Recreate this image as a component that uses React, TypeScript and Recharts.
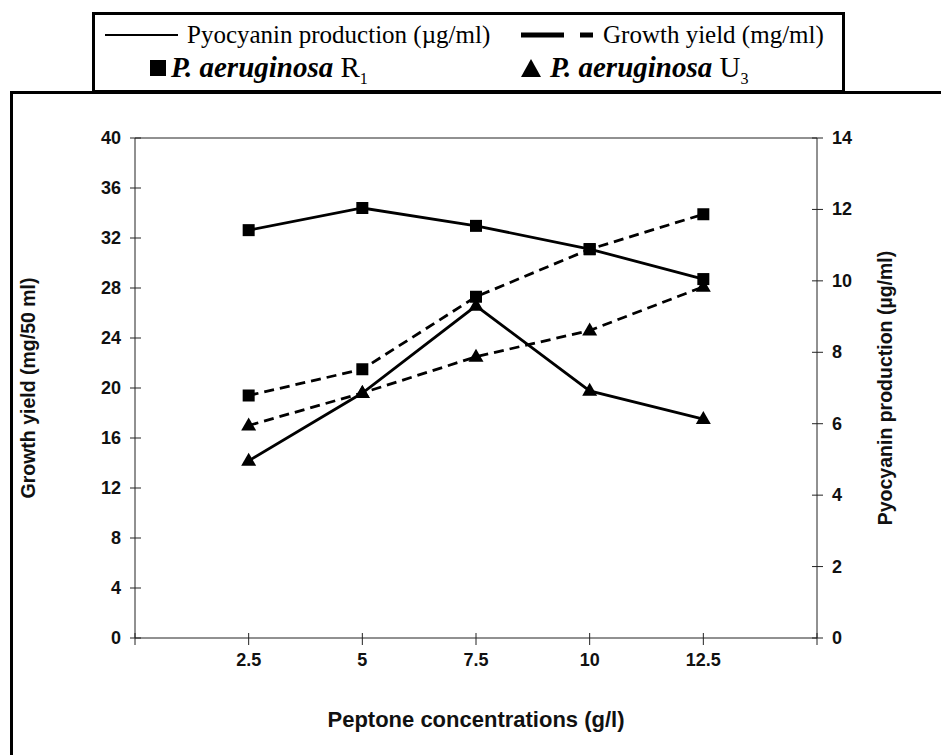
import { LineChart, Line, XAxis, YAxis, ReferenceLine, Label } from 'recharts'

// peptone concentration (g/l)
const peptone = [2.5, 5, 7.5, 10, 12.5]
// pyocyanin production (ug/ml) - right axis, solid lines
const pyocyaninR1 = [11.42, 12.04, 11.54, 10.89, 10.05]
const pyocyaninU3 = [4.96, 6.86, 9.3, 6.92, 6.13]
// growth yield (mg/50 ml) - left axis, dashed lines
const growthR1 = [19.4, 21.5, 27.3, 31.1, 33.9]
const growthU3 = [17.0, 19.6, 22.5, 24.6, 28.1]

const xTicks = [0, 2.5, 5, 7.5, 10, 12.5, 15]
const growthTicks = [0, 4, 8, 12, 16, 20, 24, 28, 32, 36, 40]
const pyoTicks = [0, 2, 4, 6, 8, 10, 12, 14]

const data = peptone.map((p, i) => ({
  p,
  pyoR1: pyocyaninR1[i],
  pyoU3: pyocyaninU3[i],
  growR1: growthR1[i],
  growU3: growthU3[i],
}))

const SANS = '"Liberation Sans", Arial, sans-serif'
const SERIF = '"Liberation Serif", "Times New Roman", serif'
const AXIS = '#222'
const TICK_FONT = 18
const TITLE_FONT = 19.5

const Square = (props: any) => {
  const { cx, cy, index } = props
  if (cx == null || cy == null) return <g key={`s${index}`} />
  return <rect key={`s${index}`} x={cx - 6} y={cy - 6} width={12} height={12} fill="#000" />
}

const Triangle = (props: any) => {
  const { cx, cy, index } = props
  if (cx == null || cy == null) return <g key={`t${index}`} />
  return <polygon key={`t${index}`} points={`${cx},${cy - 8} ${cx - 7.5},${cy + 5} ${cx + 7.5},${cy + 5}`} fill="#000" />
}

const LeftTick = (props: any) => {
  const { x, y, payload } = props
  return (
    <g>
      <line x1={x - 5} x2={x + 6} y1={y} y2={y} stroke={AXIS} strokeWidth={1} />
      <text x={x - 14} y={y} textAnchor="end" dominantBaseline="central" fontSize={TICK_FONT} fontWeight="bold" fontFamily={SANS} fill="#111">
        {payload.value}
      </text>
    </g>
  )
}

const RightTick = (props: any) => {
  const { x, y, payload } = props
  return (
    <g>
      <line x1={x - 5} x2={x + 6} y1={y} y2={y} stroke={AXIS} strokeWidth={1} />
      <text x={x + 15} y={y} textAnchor="start" dominantBaseline="central" fontSize={TICK_FONT} fontWeight="bold" fontFamily={SANS} fill="#111">
        {payload.value}
      </text>
    </g>
  )
}

const BottomTick = (props: any) => {
  const { x, y, payload } = props
  const v = payload.value
  const show = v > 0 && v < 15
  return (
    <g>
      <line x1={x} x2={x} y1={y - 5} y2={y + 7} stroke={AXIS} strokeWidth={1} />
      {show && (
        <text x={x} y={y + 22} textAnchor="middle" dominantBaseline="central" fontSize={TICK_FONT} fontWeight="bold" fontFamily={SANS} fill="#111">
          {v}
        </text>
      )}
    </g>
  )
}

function Legend() {
  return (
    <div
      style={{
        position: 'absolute',
        left: 92,
        top: 12,
        width: 747,
        height: 75,
        border: '3px solid #000',
        background: '#fff',
        fontFamily: SERIF,
        fontSize: 25,
        color: '#000',
        lineHeight: 1,
      }}
    >
      <svg width={747} height={75} style={{ position: 'absolute', left: 0, top: 0 }}>
        <line x1={10} x2={83} y1={20} y2={20} stroke="#000" strokeWidth={2} />
        <line x1={426} x2={469} y1={20} y2={20} stroke="#000" strokeWidth={5} />
        <line x1={485} x2={498} y1={20} y2={20} stroke="#000" strokeWidth={5} />
        <rect x={55} y={45} width={16} height={16} fill="#000" />
        <polygon points="436,44 426,62 446,62" fill="#000" />
      </svg>
      <div style={{ position: 'absolute', left: 92, top: 7, whiteSpace: 'nowrap' }}>Pyocyanin production (µg/ml)</div>
      <div style={{ position: 'absolute', left: 508, top: 7, whiteSpace: 'nowrap' }}>Growth yield (mg/ml)</div>
      <div style={{ position: 'absolute', left: 76, top: 38, whiteSpace: 'nowrap', fontSize: 29 }}>
        <b><i>P. aeruginosa</i></b> R<sub style={{ fontSize: 16 }}>1</sub>
      </div>
      <div style={{ position: 'absolute', left: 455, top: 38, whiteSpace: 'nowrap', fontSize: 29 }}>
        <b><i>P. aeruginosa</i></b> U<sub style={{ fontSize: 16 }}>3</sub>
      </div>
    </div>
  )
}

export default function App() {
  return (
    <div style={{ position: 'absolute', left: 0, top: 0, width: 941, height: 755, background: '#fff', overflow: 'hidden' }}>
      <div
        style={{
          position: 'absolute',
          left: 10,
          top: 91,
          width: 960,
          height: 700,
          border: '3px solid #000',
        }}
      />
      <Legend />
      <div style={{ position: 'absolute', left: 0, top: 0 }}>
        <LineChart width={941} height={755} data={data} margin={{ top: 138, right: 64, bottom: 77, left: 75 }}>
          <XAxis
            dataKey="p"
            type="number"
            domain={[0, 15]}
            ticks={xTicks}
            interval={0}
            stroke={AXIS}
            tickLine={false}
            tickSize={0}
            tickMargin={0}
            tick={<BottomTick />}
            height={40}
          >
            <Label
              content={(p: any) => {
                const vb = p.viewBox
                return (
                  <text x={vb.x + vb.width / 2} y={vb.y + 81} textAnchor="middle" dominantBaseline="central" fontSize={22} fontWeight="bold" fontFamily={SANS} fill="#111">
                    Peptone concentrations (g/l)
                  </text>
                )
              }}
            />
          </XAxis>
          <YAxis
            yAxisId="left"
            orientation="left"
            domain={[0, 40]}
            ticks={growthTicks}
            interval={0}
            stroke={AXIS}
            tickLine={false}
            tickSize={0}
            tickMargin={0}
            tick={<LeftTick />}
            width={60}
          >
            <Label
              content={(p: any) => {
                const vb = p.viewBox
                const cx = vb.x + vb.width - 107
                const cy = vb.y + vb.height / 2
                return (
                  <text x={cx} y={cy} transform={`rotate(-90 ${cx} ${cy})`} textAnchor="middle" dominantBaseline="central" fontSize={TITLE_FONT} fontWeight="bold" fontFamily={SANS} fill="#111">
                    Growth yield (mg/50 ml)
                  </text>
                )
              }}
            />
          </YAxis>
          <YAxis
            yAxisId="right"
            orientation="right"
            domain={[0, 14]}
            ticks={pyoTicks}
            interval={0}
            stroke={AXIS}
            tickLine={false}
            tickSize={0}
            tickMargin={0}
            tick={<RightTick />}
            width={60}
          >
            <Label
              content={(p: any) => {
                const vb = p.viewBox
                const cx = vb.x + 68
                const cy = vb.y + vb.height / 2
                return (
                  <text x={cx} y={cy} transform={`rotate(-90 ${cx} ${cy})`} textAnchor="middle" dominantBaseline="central" fontSize={TITLE_FONT} fontWeight="bold" fontFamily={SANS} fill="#111">
                    Pyocyanin production (µg/ml)
                  </text>
                )
              }}
            />
          </YAxis>
          <ReferenceLine yAxisId="left" y={40} stroke={AXIS} strokeWidth={1} />
          <Line yAxisId="left" dataKey="growR1" stroke="#000" strokeWidth={2.8} strokeDasharray="10 6" dot={Square} isAnimationActive={false} />
          <Line yAxisId="left" dataKey="growU3" stroke="#000" strokeWidth={2.8} strokeDasharray="10 6" dot={Triangle} isAnimationActive={false} />
          <Line yAxisId="right" dataKey="pyoR1" stroke="#000" strokeWidth={2.8} dot={Square} isAnimationActive={false} />
          <Line yAxisId="right" dataKey="pyoU3" stroke="#000" strokeWidth={2.8} dot={Triangle} isAnimationActive={false} />
        </LineChart>
      </div>
    </div>
  )
}
